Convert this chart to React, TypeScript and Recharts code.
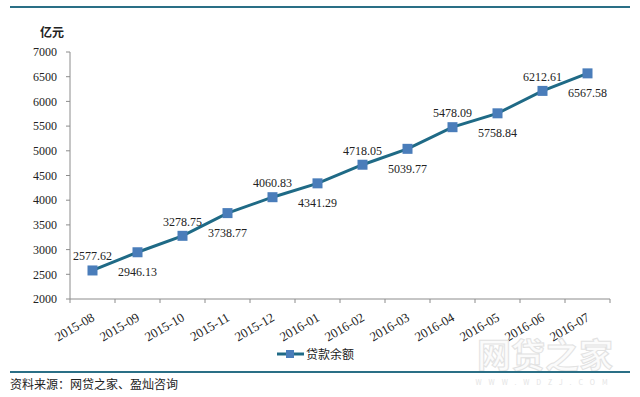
import React from 'react';
import { LineChart, Line, XAxis, YAxis, LabelList } from 'recharts';

const MONTHS = [
  '2015-08', '2015-09', '2015-10', '2015-11', '2015-12', '2016-01',
  '2016-02', '2016-03', '2016-04', '2016-05', '2016-06', '2016-07',
];
const LOAN_BALANCE = [
  2577.62, 2946.13, 3278.75, 3738.77, 4060.83, 4341.29,
  4718.05, 5039.77, 5478.09, 5758.84, 6212.61, 6567.58,
];
const Y_TICKS = [2000, 2500, 3000, 3500, 4000, 4500, 5000, 5500, 6000, 6500, 7000];
const SERIES_NAME = '贷款余额';
const UNIT = '亿元';
const SOURCE = '资料来源：网贷之家、盈灿咨询';

const data = MONTHS.map((month, i) => ({ month, value: LOAN_BALANCE[i] }));

const LINE_COLOR = '#1f6a86';
const MARKER_COLOR = '#4a7dba';
const AXIS_COLOR = '#8c8c8c';
const RULE_COLOR = '#2a6f86';
const BAND = 45;
const SERIF = '"Liberation Serif", "Times New Roman", serif';
const CJK = '"Noto Sans CJK SC", "Noto Sans", sans-serif';

const MonthTick = (props: any) => {
  const { x, y, payload, index, visibleTicksCount } = props;
  const last = index === visibleTicksCount - 1;
  return (
    <g>
      <line x1={x - BAND / 2} y1={y - 8} x2={x - BAND / 2} y2={y - 4} stroke={AXIS_COLOR} />
      {last && <line x1={x + BAND / 2} y1={y - 8} x2={x + BAND / 2} y2={y - 4} stroke={AXIS_COLOR} />}
      <text
        x={x + 3}
        y={y + 13}
        transform={`rotate(-30, ${x + 3}, ${y + 13})`}
        textAnchor="end"
        fontFamily={SERIF}
        fontSize={13}
        fill="#222"
      >
        {payload.value}
      </text>
    </g>
  );
};

const SquareDot = (props: any) => {
  const { cx, cy, index } = props;
  return <rect key={`dot-${index}`} x={cx - 5} y={cy - 5} width={10} height={10} fill={MARKER_COLOR} />;
};

// labels alternate above / below the points
const ValueLabel = (props: any) => {
  const { x, y, value, index } = props;
  const above = index % 2 === 0;
  return (
    <text
      x={x}
      y={above ? y - 10 : y + 24}
      textAnchor="middle"
      fontFamily={SERIF}
      fontSize={12}
      fill="#222"
    >
      {value.toFixed(2)}
    </text>
  );
};

export default function App() {
  return (
    <div style={{ position: 'absolute', left: 0, top: 0, width: 640, height: 397, background: '#fff' }}>
      <div style={{ position: 'absolute', left: 10, top: 6, width: 620, height: 2, background: RULE_COLOR }} />
      <div
        style={{ position: 'absolute', left: 40, top: 23, fontFamily: CJK, fontSize: 12, fontWeight: 'bold', color: '#222' }}
      >
        {UNIT}
      </div>

      <LineChart width={640} height={397} data={data} margin={{ top: 52, right: 30, bottom: 0, left: 0 }}>
        <XAxis
          dataKey="month"
          height={98}
          interval={0}
          padding={{ left: BAND / 2, right: BAND / 2 }}
          stroke={AXIS_COLOR}
          tickLine={false}
          tick={<MonthTick />}
        />
        <YAxis
          width={70}
          domain={[2000, 7000]}
          ticks={Y_TICKS}
          interval={0}
          stroke={AXIS_COLOR}
          tickSize={4}
          tickMargin={9}
          tick={{ fontFamily: SERIF, fontSize: 12, fill: '#222' }}
        />
        <Line
          dataKey="value"
          stroke={LINE_COLOR}
          strokeWidth={3}
          dot={<SquareDot />}
          activeDot={false}
          isAnimationActive={false}
        >
          <LabelList dataKey="value" content={<ValueLabel />} />
        </Line>
      </LineChart>

      <div style={{ position: 'absolute', left: 277, top: 345, display: 'flex', alignItems: 'center' }}>
        <svg width={27} height={14}>
          <line x1={0} y1={7} x2={27} y2={7} stroke={LINE_COLOR} strokeWidth={3} />
          <rect x={9} y={3} width={8} height={8} fill={MARKER_COLOR} />
        </svg>
        <span style={{ fontFamily: CJK, fontSize: 12, color: '#222', marginLeft: 2 }}>{SERIES_NAME}</span>
      </div>

      {/* faint watermark */}
      <svg style={{ position: 'absolute', left: 455, top: 322 }} width={180} height={70}>
        <text x={90} y={46} textAnchor="middle" fontFamily={CJK} fontSize={34} fontWeight="bold" fill="#fbfbfb" stroke="#e2e2e2" strokeWidth={1}>
          网贷之家
        </text>
        <text x={90} y={63} textAnchor="middle" fontFamily={CJK} fontSize={7} fill="#e4e4e4" letterSpacing={7}>
          WWW.WDZJ.COM
        </text>
      </svg>

      <div style={{ position: 'absolute', left: 10, top: 371, width: 620, height: 2, background: RULE_COLOR }} />
      <div style={{ position: 'absolute', left: 10, top: 375, fontFamily: CJK, fontSize: 12, color: '#222' }}>{SOURCE}</div>
    </div>
  );
}
